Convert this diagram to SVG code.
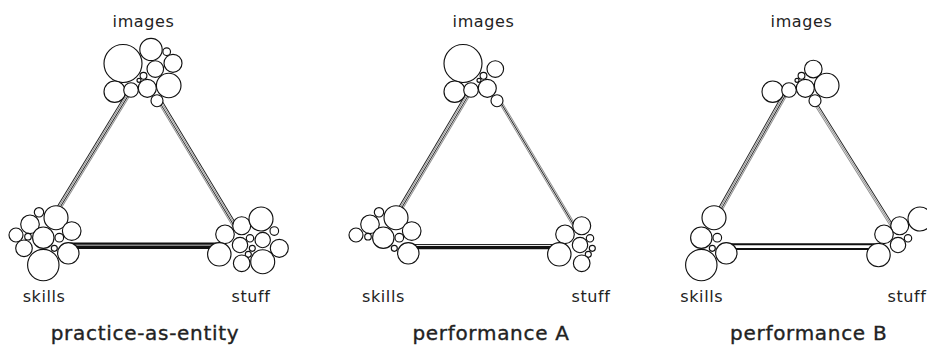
<svg xmlns="http://www.w3.org/2000/svg" width="927" height="347" viewBox="0 0 927 347">
  <style>
    .c { fill: #fff; stroke: #111; stroke-width: 1.15; }
    .g { stroke: #8a8a8a; stroke-width: 0.9; fill: none; }
    .k { stroke: #1a1a1a; stroke-width: 0.9; fill: none; }
    .b { stroke: #111; fill: none; }
    .lbl { font-family: "DejaVu Sans", "Liberation Sans", sans-serif; font-size: 16px; letter-spacing: 0.6px; fill: #222; }
    .ttl { font-family: "DejaVu Sans", "Liberation Sans", sans-serif; font-size: 20px; letter-spacing: 0.7px; fill: #222; stroke: #222; stroke-width: 0.35; text-anchor: middle; }
  </style>
  <rect width="927" height="347" fill="#fff"/>

  <!-- connectors: multi-strand links between the three elements -->
  <g id="connectors">
    <!-- practice-as-entity -->
    <g transform="translate(129.8,91.6) rotate(121.36)">
      <line class="g" x1="0" y1="-2.1" x2="143.5" y2="-2.1"/>
      <line class="k" x1="0" y1="-0.7" x2="143.5" y2="-0.7"/>
      <line class="g" x1="0" y1="0.7" x2="143.5" y2="0.7"/>
      <line class="k" x1="0" y1="2.1" x2="143.5" y2="2.1"/>
    </g>
    <g transform="translate(157,96.5) rotate(58.97)">
      <line class="k" x1="0" y1="-2.1" x2="155.2" y2="-2.1"/>
      <line class="g" x1="0" y1="-0.7" x2="155.2" y2="-0.7"/>
      <line class="k" x1="0" y1="0.7" x2="155.2" y2="0.7"/>
      <line class="g" x1="0" y1="2.1" x2="155.2" y2="2.1"/>
    </g>
    <line class="b" x1="70" y1="243.6" x2="224" y2="243.6" stroke-width="2.3"/>
    <line class="b" x1="70" y1="247.3" x2="224" y2="247.3" stroke-width="3.5"/>

    <!-- performance A -->
    <g transform="translate(469.8,91.5) rotate(120.64)">
      <line class="g" x1="0" y1="-2.1" x2="144.9" y2="-2.1"/>
      <line class="k" x1="0" y1="-0.7" x2="144.9" y2="-0.7"/>
      <line class="g" x1="0" y1="0.7" x2="144.9" y2="0.7"/>
      <line class="k" x1="0" y1="2.1" x2="144.9" y2="2.1"/>
    </g>
    <g transform="translate(497,96.5) rotate(59.13)">
      <line class="g" x1="0" y1="-1.4" x2="155" y2="-1.4"/>
      <line class="k" x1="0" y1="0" x2="155" y2="0"/>
      <line class="g" x1="0" y1="1.4" x2="155" y2="1.4"/>
    </g>
    <line class="b" x1="410" y1="244.6" x2="560" y2="244.6" stroke-width="1"/>
    <line class="b" x1="410" y1="247.6" x2="560" y2="247.6" stroke-width="3.4"/>

    <!-- performance B -->
    <g transform="translate(786.6,91.5) rotate(119.38)">
      <line class="g" x1="0" y1="-2.1" x2="143.2" y2="-2.1"/>
      <line class="k" x1="0" y1="-0.7" x2="143.2" y2="-0.7"/>
      <line class="g" x1="0" y1="0.7" x2="143.2" y2="0.7"/>
      <line class="k" x1="0" y1="2.1" x2="143.2" y2="2.1"/>
    </g>
    <g transform="translate(813.8,100.9) rotate(58)">
      <line class="k" x1="0" y1="-1.4" x2="152.3" y2="-1.4"/>
      <line class="g" x1="0" y1="0" x2="152.3" y2="0"/>
      <line class="g" x1="0" y1="1.4" x2="152.3" y2="1.4"/>
    </g>
    <line class="b" x1="730" y1="244.3" x2="880" y2="244.3" stroke-width="2"/>
    <line class="b" x1="730" y1="249" x2="880" y2="249" stroke-width="2.1"/>
  </g>

  <!-- practice-as-entity -->
  <g id="p1-images">
    <circle class="c" cx="123" cy="63.5" r="19"/>
    <circle class="c" cx="151" cy="49.5" r="11.2"/>
    <circle class="c" cx="166.7" cy="51.7" r="3.8"/>
    <circle class="c" cx="173" cy="63.3" r="9"/>
    <circle class="c" cx="155.3" cy="69" r="8.3"/>
    <circle class="c" cx="168.7" cy="85.5" r="12.3"/>
    <circle class="c" cx="143.5" cy="75.8" r="3.4"/>
    <circle class="c" cx="139" cy="80.3" r="2"/>
    <circle class="c" cx="114.7" cy="91.7" r="10.7"/>
    <circle class="c" cx="131" cy="90" r="7.3"/>
    <circle class="c" cx="147.3" cy="88.3" r="9"/>
    <circle class="c" cx="157" cy="100.7" r="6"/>
    <text class="lbl" x="143.5" y="26.5" text-anchor="middle">images</text>
  </g>
  <g id="p1-skills">
    <circle class="c" cx="56" cy="217.7" r="12"/>
    <circle class="c" cx="39" cy="212.3" r="4.7"/>
    <circle class="c" cx="30" cy="224.3" r="9.3"/>
    <circle class="c" cx="16" cy="235" r="7"/>
    <circle class="c" cx="28" cy="236.7" r="3.3"/>
    <circle class="c" cx="43.3" cy="237.7" r="10.7"/>
    <circle class="c" cx="71.7" cy="231" r="9.3"/>
    <circle class="c" cx="59.3" cy="237.7" r="4.3"/>
    <circle class="c" cx="24" cy="248.3" r="8.3"/>
    <circle class="c" cx="54.3" cy="248.3" r="3"/>
    <circle class="c" cx="68.3" cy="253.3" r="10.7"/>
    <circle class="c" cx="43.3" cy="265" r="15.7"/>
    <text class="lbl" x="22.7" y="301.7">skills</text>
  </g>
  <g id="p1-stuff">
    <circle class="c" cx="241.7" cy="225.7" r="9"/>
    <circle class="c" cx="261" cy="219" r="12"/>
    <circle class="c" cx="274.3" cy="231" r="4.3"/>
    <circle class="c" cx="225" cy="234.3" r="9.3"/>
    <circle class="c" cx="250" cy="238.3" r="3.7"/>
    <circle class="c" cx="262.7" cy="240" r="7.7"/>
    <circle class="c" cx="240" cy="245" r="7.7"/>
    <circle class="c" cx="252.3" cy="248.3" r="3"/>
    <circle class="c" cx="279.3" cy="248.3" r="9"/>
    <circle class="c" cx="219.3" cy="254.3" r="11.7"/>
    <circle class="c" cx="248.3" cy="254.3" r="3"/>
    <circle class="c" cx="241.7" cy="263.3" r="8.3"/>
    <circle class="c" cx="262.7" cy="261.7" r="12"/>
    <text class="lbl" x="231.5" y="301.7" letter-spacing="0">stuff</text>
  </g>
  <text id="p1-title" class="ttl" x="145" y="340">practice-as-entity</text>

  <!-- performance A -->
  <g id="p2-images" transform="translate(340,0)">
    <circle class="c" cx="123" cy="63.5" r="19"/>
    <circle class="c" cx="155.3" cy="69" r="8.3"/>
    <circle class="c" cx="143.5" cy="75.8" r="3.4"/>
    <circle class="c" cx="139" cy="80.3" r="2"/>
    <circle class="c" cx="114.7" cy="91.7" r="10.7"/>
    <circle class="c" cx="131" cy="90" r="7.3"/>
    <circle class="c" cx="147.3" cy="88.3" r="9"/>
    <circle class="c" cx="157" cy="100.7" r="6"/>
    <text class="lbl" x="143.5" y="26.5" text-anchor="middle">images</text>
  </g>
  <g id="p2-skills" transform="translate(340,0)">
    <circle class="c" cx="56" cy="217.7" r="12"/>
    <circle class="c" cx="39" cy="212.3" r="4.7"/>
    <circle class="c" cx="30" cy="224.3" r="9.3"/>
    <circle class="c" cx="16" cy="235" r="7"/>
    <circle class="c" cx="28" cy="236.7" r="3.3"/>
    <circle class="c" cx="43.3" cy="237.7" r="10.7"/>
    <circle class="c" cx="71.7" cy="231" r="9.3"/>
    <circle class="c" cx="59.3" cy="237.7" r="4.3"/>
    <circle class="c" cx="54.3" cy="248.3" r="3"/>
    <circle class="c" cx="68.3" cy="253.3" r="10.7"/>
    <text class="lbl" x="22" y="301.7">skills</text>
  </g>
  <g id="p2-stuff" transform="translate(340,0)">
    <circle class="c" cx="241.7" cy="225.7" r="9"/>
    <circle class="c" cx="225" cy="234.3" r="9.3"/>
    <circle class="c" cx="250" cy="238.3" r="3.7"/>
    <circle class="c" cx="240" cy="245" r="7.7"/>
    <circle class="c" cx="252.3" cy="248.3" r="3"/>
    <circle class="c" cx="219.3" cy="254.3" r="11.7"/>
    <circle class="c" cx="248.3" cy="254.3" r="3"/>
    <circle class="c" cx="241.7" cy="263.3" r="8.3"/>
    <text class="lbl" x="231.5" y="301.7" letter-spacing="0">stuff</text>
  </g>
  <text id="p2-title" class="ttl" x="491" y="340">performance A</text>

  <!-- performance B -->
  <g id="p3-images" transform="translate(658,0)">
    <circle class="c" cx="155.3" cy="69" r="8.8"/>
    <circle class="c" cx="168.7" cy="85.5" r="12.3"/>
    <circle class="c" cx="143.5" cy="75.8" r="3.4"/>
    <circle class="c" cx="139" cy="80.3" r="2"/>
    <circle class="c" cx="114.7" cy="91.7" r="10.7"/>
    <circle class="c" cx="131" cy="90" r="7.3"/>
    <circle class="c" cx="147.3" cy="88.3" r="9"/>
    <circle class="c" cx="157" cy="100.7" r="6"/>
    <text class="lbl" x="143.5" y="26.5" text-anchor="middle">images</text>
  </g>
  <g id="p3-skills" transform="translate(658,0)">
    <circle class="c" cx="56" cy="217.7" r="12"/>
    <circle class="c" cx="43.3" cy="237.7" r="10.7"/>
    <circle class="c" cx="59.3" cy="237.7" r="4.3"/>
    <circle class="c" cx="54.3" cy="248.3" r="3"/>
    <circle class="c" cx="68.3" cy="253.3" r="10.7"/>
    <circle class="c" cx="43.3" cy="265" r="15.7"/>
    <text class="lbl" x="22.3" y="301.7">skills</text>
  </g>
  <g id="p3-stuff" transform="translate(658,0)">
    <circle class="c" cx="241.7" cy="225.7" r="9"/>
    <circle class="c" cx="262" cy="219" r="12"/>
    <circle class="c" cx="226" cy="234.3" r="9.3"/>
    <circle class="c" cx="250" cy="238.3" r="3.7"/>
    <circle class="c" cx="240" cy="245" r="7.7"/>
    <circle class="c" cx="220.5" cy="255" r="11.7"/>
    <text class="lbl" x="229.5" y="301.7" letter-spacing="0">stuff</text>
  </g>
  <text id="p3-title" class="ttl" x="808.7" y="340">performance B</text>
</svg>
